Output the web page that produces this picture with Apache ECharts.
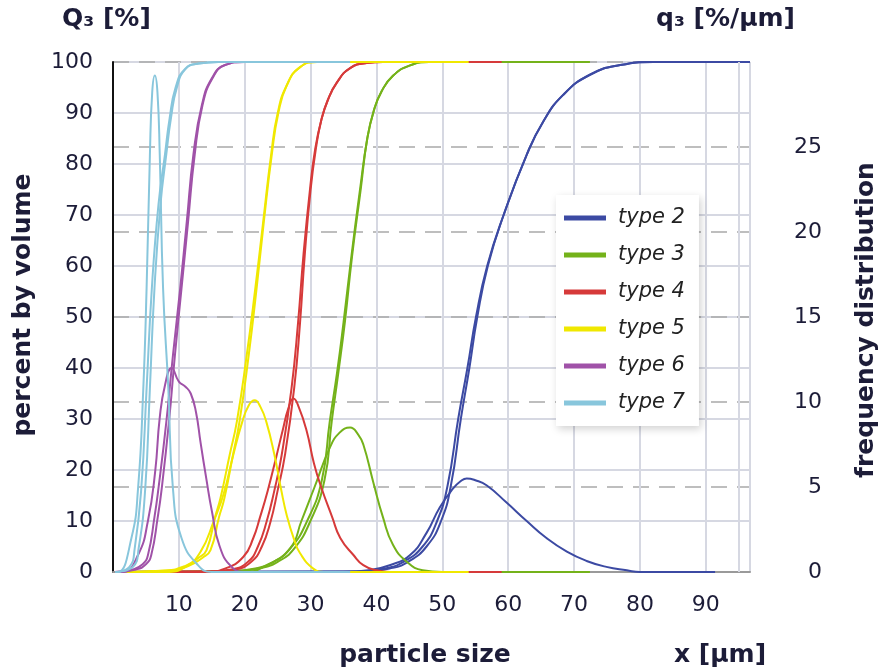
<!DOCTYPE html>
<html>
<head>
<meta charset="utf-8">
<script src="https://cdn.jsdelivr.net/npm/echarts@6/dist/echarts.min.js"></script>
<style>html,body{margin:0;padding:0;background:#fff}#c{width:881px;height:670px}</style>
</head>
<body>
<div id="c"></div>
<script>
// ---- data (x in µm; cumulative Q3 in %, density q3 in %/µm) ----
const typeNames = ['type 2','type 3','type 4','type 5','type 6','type 7'];
const colors = ['#3c4aa3','#74b21a','#d63a3a','#f0e800','#a052a8','#88c6dc'];
const xTickLabels = [10,20,30,40,50,60,70,80,90];

const t2Density = [[0.3,0],[35,0],[38.8,0.1],[42,0.4],[45.1,1.0],[47.6,2.3],[49.6,3.8],[51.6,4.9],[52.8,5.35],[53.7,5.5],[55,5.4],[56.7,5.1],[59.7,4.1],[62.8,3.0],[65.8,2.0],[68.9,1.2],[71.9,0.65],[74.9,0.3],[78,0.1],[80,0],[91.4,0]];
const t2CumA = [[0.3,0],[36,0.1],[41.2,0.7],[44.1,2],[47,5],[49.2,10],[50.8,17],[52.4,30],[53.8,40],[55.1,50],[56.8,60],[59.3,70],[62.8,81.8],[65.3,88.3],[68.3,93.5],[72.4,97.5],[77,99.4],[82,100],[96.7,100]];
const t2CumB = [[0.3,0],[37,0.1],[42,0.7],[44.8,2],[47.6,5],[49.8,10],[51.3,17],[52.8,30],[54.1,40],[55.3,50],[56.9,60],[59.3,70],[62.8,81.8],[65.3,88.3],[68.3,93.5],[72.4,97.5],[77,99.4],[82,100],[90,100]];

const t3Density = [[0.3,0],[20,0],[23.3,0.4],[26.9,1.4],[28.6,3.0],[30.6,5.0],[32.9,7.3],[34.4,8.2],[36.0,8.5],[37.2,8.1],[38.0,7.5],[39.5,5.3],[41.0,3.2],[42.5,1.6],[44.6,0.6],[47,0.1],[50,0],[72.4,0]];
const t3CumA = [[0.3,0],[18,0.2],[21.6,0.7],[24.4,2],[26.9,4.6],[29.4,9.8],[31.7,18],[32.9,29.5],[34.0,39],[35.0,49],[36.2,62],[37.5,75],[38.6,85],[39.6,90.5],[40.8,94.3],[42.5,97.3],[45,99.3],[48,100],[72.4,100]];
const t3CumB = [[0.3,0],[18.5,0.2],[22.2,0.7],[25,2],[27.5,4.6],[29.9,9.8],[32.1,18],[33.2,29.5],[34.2,39],[35.2,49],[36.3,62],[37.6,75],[38.6,85],[39.6,90.5],[40.8,94.3],[42.5,97.3],[45,99.3],[48,100],[60,100]];

const t4Density = [[0.3,0],[14,0],[17,0.2],[19.8,0.9],[21.3,2.0],[22.3,3.2],[23.5,4.8],[24.8,6.8],[25.8,8.4],[26.6,9.6],[27.4,10.2],[28.2,9.7],[29.4,8.3],[30.5,6.4],[31.6,5.0],[33.3,3.2],[34.5,2.0],[36.5,1.0],[38,0.4],[40,0.1],[42,0],[59,0]];
const t4CumA = [[0.3,0],[14,0.1],[18,0.5],[20.5,2],[22,5],[23.3,9.8],[24.5,16],[25.6,22.9],[27.1,36],[28.1,49],[28.9,62],[29.9,75],[30.7,83],[31.6,88.5],[32.6,92.5],[34.0,96],[36,98.8],[38.5,99.8],[41,100],[59,100]];
const t4CumB = [[0.3,0],[14.5,0.1],[18.5,0.5],[21,2],[22.6,5],[23.9,9.8],[25,16],[26.1,22.9],[27.5,36],[28.4,49],[29.1,62],[30,75],[30.8,83],[31.6,88.5],[32.6,92.5],[34.0,96],[36,98.8],[38.5,99.8],[41,100],[50,100]];

const t5Density = [[0.3,0],[8,0],[11,0.3],[13.3,1.2],[15.3,3.0],[16.8,4.6],[18.2,6.8],[19.6,8.8],[20.6,9.8],[21.5,10.1],[22.4,9.7],[23.3,8.8],[24.5,6.9],[25.5,4.9],[26.4,3.3],[27.5,1.9],[28.4,1.1],[30.4,0.2],[32,0],[54,0]];
const t5CumA = [[0.3,0],[8,0.3],[11,1.2],[13,2.8],[14.2,4.3],[15.5,10.8],[16.3,14.4],[17.7,22.9],[18.8,29.5],[20.3,42.5],[21.6,55.6],[22.8,68.7],[24.0,81.8],[25.0,90],[26.4,95.5],[28.4,99],[31,100],[54,100]];
const t5CumB = [[0.3,0],[8.5,0.3],[11.5,1.2],[13.6,2.8],[14.8,4.3],[16.1,10.8],[16.9,14.4],[18.2,22.9],[19.2,29.5],[20.6,42.5],[21.8,55.6],[22.9,68.7],[24.1,81.8],[25.1,90],[26.4,95.5],[28.4,99],[31,100],[45,100]];

const t6Density = [[0.3,0],[1.5,0],[3.8,1.0],[5.3,3.0],[6.4,5.9],[7.1,9.1],[7.9,11.0],[8.9,12.0],[10.0,11.2],[11.0,10.9],[11.8,10.5],[12.6,9.4],[13.3,7.6],[14.2,5.4],[15.0,3.6],[16.2,1.5],[18,0.3],[20,0],[30,0]];
const t6CumA = [[0.3,0],[3,0.5],[4.5,1.5],[5.3,3.3],[6.3,10.8],[6.9,16.4],[8.1,29.5],[9.1,42.5],[10.2,55.6],[11.2,68.7],[12.2,81.8],[13.5,91.6],[15,96.8],[17,99.4],[20,100],[30,100]];
const t6CumB = [[0.3,0],[3.5,0.5],[5,1.5],[5.8,3.3],[6.8,10.8],[7.4,16.4],[8.5,29.5],[9.4,42.5],[10.4,55.6],[11.4,68.7],[12.4,81.8],[13.6,91.6],[15.1,96.8],[17,99.4],[20,100],[28,100]];

const t7Density = [[0.3,0],[0.8,0],[2.8,2.0],[3.8,4.9],[4.6,10.8],[5.1,16.7],[5.6,24.5],[5.95,28.2],[6.35,29.2],[6.75,28.2],[7.1,24.5],[7.6,16.7],[8.4,10.8],[9.1,4.9],[10.4,2.0],[12.9,0.4],[15,0],[36,0]];
const t7CumA = [[0.3,0],[2.5,1],[3.3,4.7],[4.3,16.5],[5.1,36],[5.9,55.7],[6.9,72],[7.9,82],[8.6,89],[9.5,95],[10.9,98.6],[13,99.7],[16,100],[36,100]];
const t7CumB = [[0.3,0],[3,1],[3.9,4.7],[4.9,16.5],[5.6,36],[6.3,55.7],[7.2,72],[8.1,82],[8.8,89],[9.7,95],[11,98.6],[13,99.7],[16,100],[30,100]];

const densities = [t2Density,t3Density,t4Density,t5Density,t6Density,t7Density];
const cumA = [t2CumA,t3CumA,t4CumA,t5CumA,t6CumA,t7CumA];
const cumB = [t2CumB,t3CumB,t4CumB,t5CumB,t6CumB,t7CumB];
const extraGridX = 95;

// ---- chart ----
const FONT = 'DejaVu Sans';
const TXT = '#1c1c38';
const TITLE_FONT = 'bold 25px "DejaVu Sans"';
const series = [];
typeNames.forEach((name, i) => {
  const base = {name, type:'line', showSymbol:false, symbol:'none', smooth:0.5,
    lineStyle:{width:2, color:colors[i]}, itemStyle:{color:colors[i]}, silent:true, animation:false};
  series.push(Object.assign({}, base, {yAxisIndex:1, data:densities[i]}));
  series.push(Object.assign({}, base, {yAxisIndex:0, data:cumA[i]}));
  series.push(Object.assign({}, base, {yAxisIndex:0, data:cumB[i]}));
});
series[0].markLine = {silent:true, symbol:['none','none'], label:{show:false},
  lineStyle:{color:'#d6d8e2', width:2, type:'solid'}, data:[{xAxis:extraGridX}]};

const chart = echarts.init(document.getElementById('c'), null, {renderer:'canvas'});
chart.setOption({
  animation:false,
  textStyle:{fontFamily:FONT},
  grid:{left:113, top:62, right:131, bottom:98, containLabel:false},
  xAxis:{type:'value', min:0, max:96.7, interval:10,
    axisLine:{show:true, onZero:false, lineStyle:{color:'#9a9a9a', width:2}},
    axisTick:{show:false},
    axisLabel:{fontSize:22, color:TXT, margin:22, fontFamily:FONT,
      formatter:v => xTickLabels.indexOf(v) >= 0 ? String(v) : ''},
    splitLine:{show:true, lineStyle:{color:'#d6d8e2', width:2}}},
  yAxis:[
    {type:'value', position:'left', min:0, max:100, interval:10,
      axisLine:{show:true, lineStyle:{color:'#111', width:2}},
      axisTick:{show:false},
      axisLabel:{fontSize:22, color:TXT, margin:20, fontFamily:FONT},
      splitLine:{show:true, lineStyle:{color:'#d6d8e2', width:2}}},
    {type:'value', position:'right', min:0, max:30, interval:5,
      axisLine:{show:false}, axisTick:{show:false},
      axisLabel:{fontSize:22, color:TXT, margin:72, align:'right', fontFamily:FONT,
        formatter:v => v < 30 ? String(v) : ''},
      splitLine:{show:true, lineStyle:{color:'#a9a9a9', width:1.5, type:[16,10]}}}
  ],
  legend:{orient:'vertical', left:556, top:195, data:typeNames,
    backgroundColor:'#ffffff', padding:[12,14,12,8], itemGap:15,
    itemWidth:42, itemHeight:5, icon:'rect',
    shadowBlur:8, shadowColor:'rgba(0,0,0,0.18)', shadowOffsetX:2, shadowOffsetY:3,
    textStyle:{fontSize:21, fontStyle:'italic', color:'#222', fontFamily:FONT, padding:[0,0,0,7], lineHeight:22}},
  graphic:[
    {type:'text', left:62, top:7, style:{text:'Q₃ [%]', font:TITLE_FONT, fill:TXT}},
    {type:'text', left:656, top:7, style:{text:'q₃ [%/µm]', font:TITLE_FONT, fill:TXT}},
    {type:'text', x:23, y:305, rotation:Math.PI/2, style:{text:'percent by volume', font:TITLE_FONT, fill:TXT, align:'center', verticalAlign:'middle'}},
    {type:'text', x:866, y:320, rotation:Math.PI/2, style:{text:'frequency distribution', font:TITLE_FONT, fill:TXT, align:'center', verticalAlign:'middle'}},
    {type:'text', x:425, y:655, style:{text:'particle size', font:TITLE_FONT, fill:TXT, align:'center', verticalAlign:'middle'}},
    {type:'text', x:720, y:655, style:{text:'x [µm]', font:TITLE_FONT, fill:TXT, align:'center', verticalAlign:'middle'}}
  ],
  series
});
</script>
</body>
</html>
